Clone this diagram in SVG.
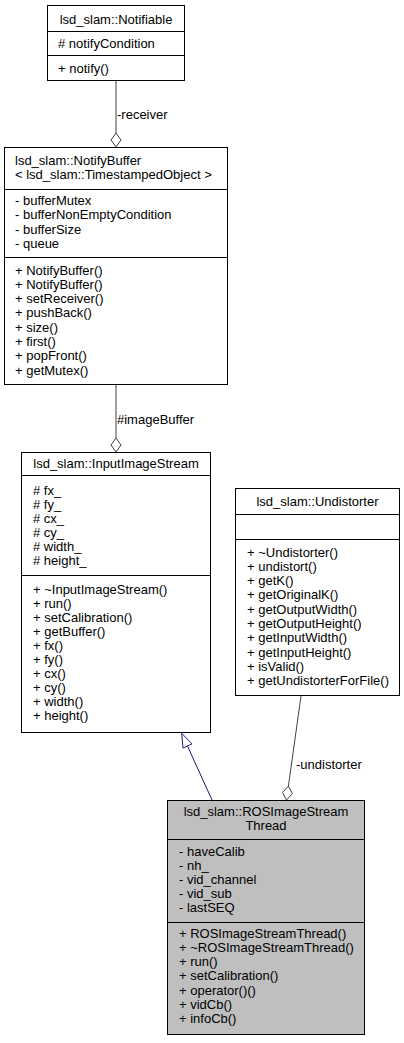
<svg xmlns="http://www.w3.org/2000/svg" width="404" height="1043" viewBox="0 0 404 1043">
<style>
text{font-family:"Liberation Sans",Arial,Helvetica,sans-serif;font-size:13px;fill:#000}
.box{fill:#fff;stroke:#000;stroke-width:1}
.cur{fill:#bfbfbf;stroke:#000;stroke-width:1}
.div{stroke:#000;stroke-width:1}
.mid{text-anchor:middle}
.use{stroke:#404040;stroke-width:1;fill:none}
.dia{stroke:#404040;stroke-width:1;fill:#fff}
.inh{stroke:#191970;stroke-width:1;fill:none}
.tri{stroke:#191970;stroke-width:1;fill:#fff}
</style>
<rect width="404" height="1043" fill="#fff"/>
<g id="connectors">
  <line class="use" x1="116" y1="81" x2="116" y2="133"/>
  <polygon class="dia" points="116,133 121,140 116,147 111,140"/>
  <text x="117" y="119">-receiver</text>
  <line class="use" x1="116" y1="385" x2="116" y2="438"/>
  <polygon class="dia" points="116,438 121,445 116,452 111,445"/>
  <text x="117" y="424">#imageBuffer</text>
  <line class="inh" x1="212" y1="800" x2="187.5" y2="746"/>
  <polygon class="tri" points="181.7,733.3 192,743.9 183,748.1"/>
  <line class="use" x1="301" y1="696" x2="288.4" y2="786.1"/>
  <polygon class="dia" points="288.4,786.1 292.4,793.7 286.5,800 282.5,792.4"/>
  <text x="296" y="768.5">-undistorter</text>
</g>
<g id="Notifiable">
  <rect class="box" x="47.5" y="5.5" width="137" height="75"/>
  <line class="div" x1="47.5" y1="31.5" x2="184.5" y2="31.5"/>
  <line class="div" x1="47.5" y1="55.5" x2="184.5" y2="55.5"/>
  <text class="mid" x="116" y="24">lsd_slam::Notifiable</text>
  <text x="58" y="47.5"># notifyCondition</text>
  <text x="58" y="73">+ notify()</text>
</g>
<g id="NotifyBuffer">
  <rect class="box" x="4.5" y="147.5" width="223" height="237"/>
  <line class="div" x1="4.5" y1="189.5" x2="227.5" y2="189.5"/>
  <line class="div" x1="4.5" y1="257.5" x2="227.5" y2="257.5"/>
  <text x="15" y="165">lsd_slam::NotifyBuffer</text>
  <text x="15" y="179.3">&lt; lsd_slam::TimestampedObject &gt;</text>
  <text x="15" y="205">- bufferMutex</text>
  <text x="15" y="219.3">- bufferNonEmptyCondition</text>
  <text x="15" y="233.6">- bufferSize</text>
  <text x="15" y="247.9">- queue</text>
  <text x="15" y="274.5">+ NotifyBuffer()</text>
  <text x="15" y="288.8">+ NotifyBuffer()</text>
  <text x="15" y="303.1">+ setReceiver()</text>
  <text x="15" y="317.4">+ pushBack()</text>
  <text x="15" y="331.7">+ size()</text>
  <text x="15" y="346">+ first()</text>
  <text x="15" y="360.3">+ popFront()</text>
  <text x="15" y="374.6">+ getMutex()</text>
</g>
<g id="InputImageStream">
  <rect class="box" x="21.5" y="452.5" width="189" height="280"/>
  <line class="div" x1="21.5" y1="475.5" x2="210.5" y2="475.5"/>
  <line class="div" x1="21.5" y1="575.5" x2="210.5" y2="575.5"/>
  <text class="mid" x="116" y="468">lsd_slam::InputImageStream</text>
  <text x="33" y="494.5"># fx_</text>
  <text x="33" y="508.6"># fy_</text>
  <text x="33" y="522.7"># cx_</text>
  <text x="33" y="536.8"># cy_</text>
  <text x="33" y="550.9"># width_</text>
  <text x="33" y="565"># height_</text>
  <text x="33" y="593.5">+ ~InputImageStream()</text>
  <text x="33" y="607.5">+ run()</text>
  <text x="33" y="621.5">+ setCalibration()</text>
  <text x="33" y="635.5">+ getBuffer()</text>
  <text x="33" y="649.5">+ fx()</text>
  <text x="33" y="663.5">+ fy()</text>
  <text x="33" y="677.5">+ cx()</text>
  <text x="33" y="691.5">+ cy()</text>
  <text x="33" y="705.5">+ width()</text>
  <text x="33" y="719.5">+ height()</text>
</g>
<g id="Undistorter">
  <rect class="box" x="235.5" y="488.5" width="164" height="207"/>
  <line class="div" x1="235.5" y1="514.5" x2="399.5" y2="514.5"/>
  <line class="div" x1="235.5" y1="539.5" x2="399.5" y2="539.5"/>
  <text class="mid" x="317.5" y="505.5">lsd_slam::Undistorter</text>
  <text x="247" y="556.5">+ ~Undistorter()</text>
  <text x="247" y="570.8">+ undistort()</text>
  <text x="247" y="585.1">+ getK()</text>
  <text x="247" y="599.4">+ getOriginalK()</text>
  <text x="247" y="613.7">+ getOutputWidth()</text>
  <text x="247" y="628">+ getOutputHeight()</text>
  <text x="247" y="642.3">+ getInputWidth()</text>
  <text x="247" y="656.6">+ getInputHeight()</text>
  <text x="247" y="670.9">+ isValid()</text>
  <text x="247" y="685.2">+ getUndistorterForFile()</text>
</g>
<g id="ROSImageStreamThread">
  <rect class="cur" x="167.5" y="800.5" width="197" height="234"/>
  <line class="div" x1="167.5" y1="839.5" x2="364.5" y2="839.5"/>
  <line class="div" x1="167.5" y1="922.5" x2="364.5" y2="922.5"/>
  <text class="mid" x="266" y="815.5">lsd_slam::ROSImageStream</text>
  <text class="mid" x="266" y="829.8">Thread</text>
  <text x="179" y="855.5">- haveCalib</text>
  <text x="179" y="869.7">- nh_</text>
  <text x="179" y="883.9">- vid_channel</text>
  <text x="179" y="898.1">- vid_sub</text>
  <text x="179" y="912.3">- lastSEQ</text>
  <text x="179" y="937.8">+ ROSImageStreamThread()</text>
  <text x="179" y="952">+ ~ROSImageStreamThread()</text>
  <text x="179" y="966.2">+ run()</text>
  <text x="179" y="980.4">+ setCalibration()</text>
  <text x="179" y="994.6">+ operator()()</text>
  <text x="179" y="1008.8">+ vidCb()</text>
  <text x="179" y="1023">+ infoCb()</text>
</g>
</svg>
